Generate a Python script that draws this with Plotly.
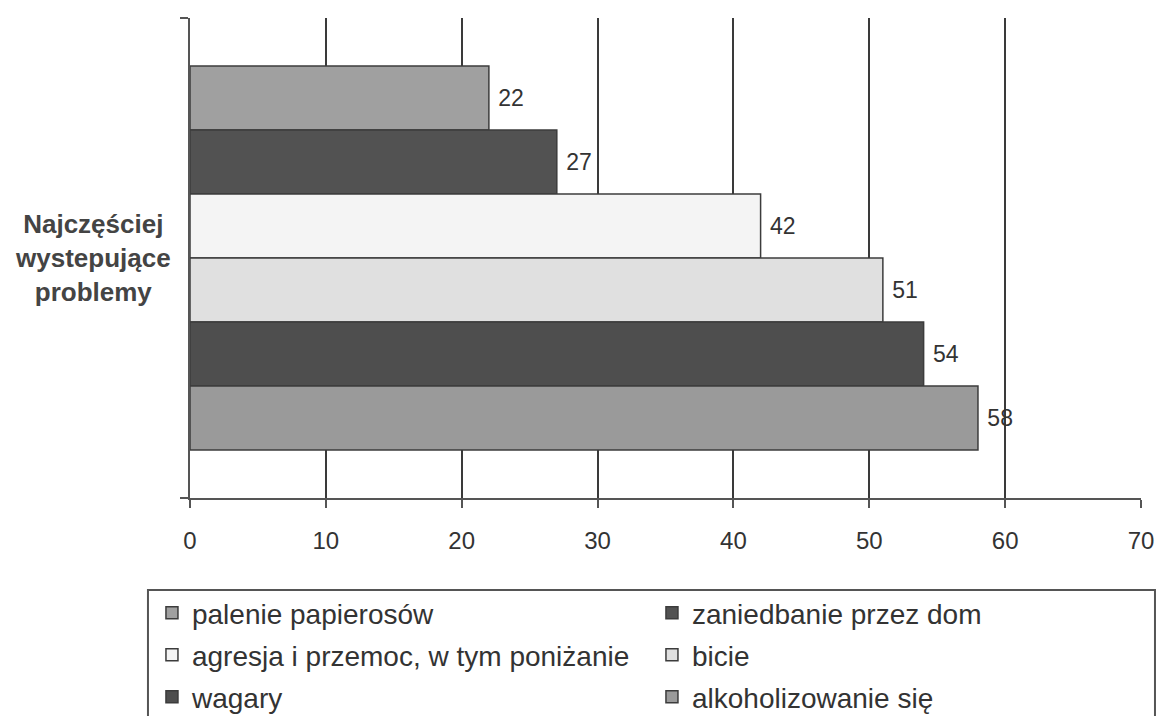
import plotly.graph_objects as go

category = ["Najczęściej<br>wystepujące<br>problemy"]
series_names = [
    "palenie papierosów",
    "zaniedbanie przez dom",
    "agresja i przemoc, w tym poniżanie",
    "bicie",
    "wagary",
    "alkoholizowanie się",
]
series_values = [22, 27, 42, 51, 54, 58]
series_colors = ["#a0a0a0", "#525252", "#f4f4f4", "#e0e0e0", "#4e4e4e", "#9a9a9a"]
legend_ids = ["legend", "legend", "legend2", "legend2", "legend3", "legend3"]
x_ticks = [0, 10, 20, 30, 40, 50, 60, 70]

FONT = "Liberation Sans, Arial, sans-serif"

fig = go.Figure()
for i, (name, val, col, lg) in enumerate(zip(series_names, series_values, series_colors, legend_ids)):
    fig.add_trace(go.Bar(
        y=category, x=[val], name=name, orientation="h",
        marker=dict(color=col, line=dict(color="#3c3c3c", width=1.5)),
        texttemplate=" %{x}", textposition="outside",
        textfont=dict(size=23, color="#333333", family=FONT),
        cliponaxis=False, legend=lg,
        legendwidth=455 if i % 2 == 0 else None,
    ))

legend_common = dict(
    orientation="h", xanchor="left", yanchor="middle", x=-0.040,
    font=dict(size=28, color="#333333", family=FONT),
    bgcolor="rgba(0,0,0,0)", borderwidth=0, traceorder="normal",
)

fig.update_layout(
    width=1158, height=716,
    margin=dict(l=190, r=17, t=18, b=218, autoexpand=False),
    paper_bgcolor="white", plot_bgcolor="white",
    barmode="group", bargap=0.2, bargroupgap=0,
    font=dict(family=FONT, color="#333333"),
    showlegend=True,
    legend=dict(legend_common, y=-0.2396),
    legend2=dict(legend_common, y=-0.327),
    legend3=dict(legend_common, y=-0.4146),
    xaxis=dict(
        range=[0, 70], tickvals=x_ticks, ticktext=[str(t) for t in x_ticks],
        showgrid=True, gridcolor="#3a3a3a", gridwidth=1.8,
        showline=True, linecolor="#555555", linewidth=2,
        ticks="outside", ticklen=8, tickwidth=2, tickcolor="#555555",
        ticklabelstandoff=12,
        tickfont=dict(size=24, color="#333333", family=FONT),
        zeroline=False, fixedrange=True,
    ),
    yaxis=dict(
        autorange="reversed", type="category",
        showline=True, linecolor="#555555", linewidth=2,
        ticks="outside", tickson="boundaries", ticklen=8, tickwidth=2, tickcolor="#555555",
        showticklabels=False,
        showgrid=False, zeroline=False, fixedrange=True,
    ),
    annotations=[dict(
        xref="paper", yref="y", x=-0.1015, y=category[0],
        text="<b>" + category[0] + "</b>", showarrow=False,
        xanchor="center", yanchor="middle", align="center",
        font=dict(size=26, color="#444444", family=FONT),
    )],
    shapes=[dict(
        type="rect", xref="paper", yref="paper",
        x0=-0.0442, x1=1.0147, y0=-0.1917, y1=-0.52,
        line=dict(color="#555555", width=2), fillcolor="rgba(0,0,0,0)",
        layer="below",
    )],
)

fig.write_html(
    "out.html",
    config={"displayModeBar": False},
    post_script="document.body.style.margin='0';document.body.style.overflow='hidden';",
)
